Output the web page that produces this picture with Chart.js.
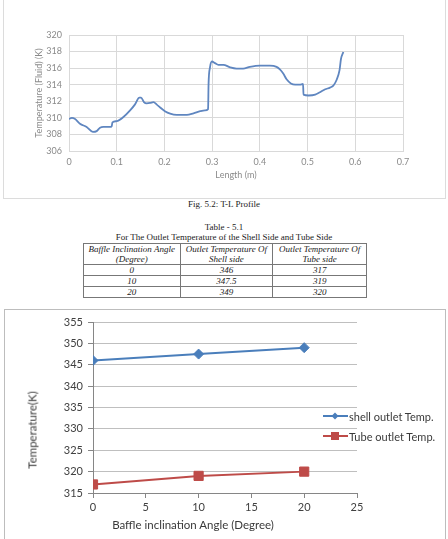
<!DOCTYPE html>
<html>
<head>
<meta charset="utf-8">
<title>T-L Profile and outlet temperatures</title>
<script src="https://cdn.jsdelivr.net/npm/chart.js@4.4.1/dist/chart.umd.min.js"></script>
<style>
  body { margin: 0; background: #fff; width: 448px; height: 539px; position: relative; overflow: hidden; }
  .abs { position: absolute; }
  .frame1 { left: 3px; top: -2px; width: 441px; height: 199px; border: 1px solid #dcdcdc; }
  .frame2 { left: 4px; top: 309px; width: 440px; height: 240px; border: 1px solid #bdbdbd; }
  .cap { left: 0; width: 448px; text-align: center; font-family: "Liberation Serif", serif; font-size: 9px; line-height: 11px; color: #222; }
  table { border-collapse: collapse; font-family: "Liberation Serif", serif; font-style: italic; font-size: 9px; color: #222; }
  td { border: 1px solid #777; text-align: center; padding: 0; line-height: 10px; height: 10px; }
  .ax { font-family: Lato, sans-serif; font-size: 11.5px; color: #3a3a3a; white-space: nowrap; }
  .leg { font-family: Lato, sans-serif; font-size: 11px; color: #3a3a3a; white-space: nowrap; }
  .leg div { height: 20px; display: flex; align-items: center; }
  .leg svg { margin-right: 1px; }
</style>
</head>
<body>
<div class="abs frame1"></div>
<canvas id="tlChart" class="abs" style="left:4px;top:0px" width="440" height="197"></canvas>

<div class="abs cap" style="top:199px">Fig. 5.2: T-L Profile</div>
<div class="abs cap" style="top:222px">Table - 5.1</div>
<div class="abs cap" style="top:232px">For The Outlet Temperature of the Shell Side and Tube Side</div>
<table class="abs" id="tbl" style="left:83px;top:243px;width:284px"></table>

<div class="abs frame2"></div>
<canvas id="outChart" class="abs" style="left:5px;top:310px" width="439" height="229"></canvas>
<div class="abs ax" style="left:32px;top:430px;transform:translate(-50%,-50%) rotate(-90deg)">Temperature(K)</div>
<div class="abs ax" style="left:193px;top:524px;transform:translate(-50%,-50%)">Baffle inclination Angle (Degree)</div>
<div class="abs leg" id="legend" style="left:323px;top:406px"></div>

<script>
// T-L profile
var tlLength = [0, 0.006, 0.012, 0.023, 0.037, 0.050, 0.058, 0.065, 0.072, 0.086, 0.0895, 0.091,
  0.1, 0.114, 0.128, 0.138, 0.1475, 0.151, 0.157, 0.163, 0.170, 0.177, 0.184, 0.191, 0.201,
  0.212, 0.226, 0.247, 0.261, 0.275, 0.285, 0.2915, 0.2925, 0.2955, 0.2995, 0.306, 0.313,
  0.3235, 0.3375, 0.351, 0.365, 0.379, 0.400, 0.421, 0.435, 0.442, 0.449, 0.456, 0.465,
  0.474, 0.484, 0.4905, 0.4915, 0.502, 0.516, 0.526, 0.537, 0.547, 0.554, 0.561, 0.567,
  0.570, 0.575];
var tlTemp = [309.85, 310.0, 309.9, 309.3, 308.9, 308.3, 308.4, 308.8, 308.9, 308.9, 309.0, 309.45,
  309.6, 310.1, 310.9, 311.6, 312.45, 312.45, 311.9, 311.75, 311.8, 311.9, 311.6, 311.25, 310.8,
  310.5, 310.35, 310.35, 310.55, 310.8, 310.9, 311.05, 314.1, 316.1, 316.8, 316.6, 316.4,
  316.4, 316.1, 315.95, 315.95, 316.15, 316.3, 316.3, 316.15, 315.85, 315.35, 314.65, 314.15,
  314.0, 314.0, 314.1, 312.8, 312.7, 312.8, 313.1, 313.45, 313.65, 313.9, 314.6, 315.75,
  317.1, 317.95];

// Table 5.1 / outlet temperature chart
var angles = [0, 10, 20];
var shellOutlet = [346, 347.5, 349];
var tubeOutlet = [317, 319, 320];
var seriesNames = ['shell outlet Temp.', 'Tube outlet Temp.'];
var tableHead = ['Baffle Inclination Angle<br>(Degree)', 'Outlet Temperature Of<br>Shell side', 'Outlet Temperature Of<br>Tube side'];
var shellText = ['346', '347.5', '349'];

var blue = '#4a7ebb', red = '#be4b48';

// ---- table
var html = '<tr style="height:21px">';
for (var h = 0; h < tableHead.length; h++) html += '<td style="width:' + [97, 93, 94][h] + 'px">' + tableHead[h] + '</td>';
html += '</tr>';
for (var r = 0; r < angles.length; r++) {
  html += '<tr style="height:11px"><td>' + angles[r] + '</td><td>' + shellText[r] + '</td><td>' + tubeOutlet[r] + '</td></tr>';
}
document.getElementById('tbl').innerHTML = html;

// ---- legend
var icons = [
  '<path d="M12 2.5 L15.5 6 L12 9.5 L8.5 6Z" fill="' + blue + '"/>',
  '<rect x="8" y="2" width="8" height="8" fill="' + red + '"/>'
];
var legColors = [blue, red], leg = '';
for (var k = 0; k < seriesNames.length; k++) {
  leg += '<div><svg width="25" height="12"><line x1="0" y1="6" x2="25" y2="6" stroke="' + legColors[k] +
    '" stroke-width="2"/>' + icons[k] + '</svg><span>' + seriesNames[k] + '</span></div>';
}
document.getElementById('legend').innerHTML = leg;

// ---- T-L chart
var tlPoints = [];
for (var i = 0; i < tlLength.length; i++) tlPoints.push({ x: tlLength[i], y: tlTemp[i] });

new Chart(document.getElementById('tlChart').getContext('2d'), {
  type: 'line',
  data: {
    datasets: [{
      data: tlPoints,
      borderColor: '#5f86c0',
      borderWidth: 1.8,
      pointRadius: 0,
      cubicInterpolationMode: 'monotone',
      fill: false
    }]
  },
  options: {
    responsive: false,
    animation: false,
    layout: { padding: { top: 35, right: 41, left: 0, bottom: 0 } },
    plugins: { legend: { display: false }, tooltip: { enabled: false } },
    scales: {
      x: {
        type: 'linear', min: 0, max: 0.7,
        afterFit: function (s) { s.height = 46; },
        grid: { color: '#d9d9d9', drawTicks: false },
        border: { color: '#d9d9d9' },
        ticks: { stepSize: 0.1, padding: 6, color: '#8a8a8a', font: { family: 'Lato', size: 9 } },
        title: { display: true, text: 'Length (m)', color: '#8a8a8a', padding: { bottom: 17 },
          font: { family: 'Lato', size: 9 } }
      },
      y: {
        min: 306, max: 320,
        afterFit: function (s) { s.width = 65; },
        grid: { color: '#d9d9d9', drawTicks: false },
        border: { color: '#d9d9d9' },
        ticks: { stepSize: 2, padding: 7, color: '#8a8a8a', font: { family: 'Lato', size: 9 } },
        title: { display: true, text: 'Temperature (Fluid) (K)', color: '#8a8a8a', padding: { top: 30 },
          font: { family: 'Lato', size: 9 } }
      }
    }
  }
});

// ---- outlet temperature chart
function pts(ys) {
  var out = [];
  for (var j = 0; j < angles.length; j++) out.push({ x: angles[j], y: ys[j] });
  return out;
}

new Chart(document.getElementById('outChart').getContext('2d'), {
  type: 'line',
  data: {
    datasets: [{
      label: seriesNames[0],
      data: pts(shellOutlet),
      borderColor: blue, backgroundColor: blue, borderWidth: 2,
      pointStyle: 'rectRot', pointRadius: 5, pointBorderWidth: 1
    }, {
      label: seriesNames[1],
      data: pts(tubeOutlet),
      borderColor: red, backgroundColor: red, borderWidth: 2,
      pointStyle: 'rect', pointRadius: 6.5, pointBorderWidth: 1
    }]
  },
  options: {
    responsive: false,
    animation: false,
    layout: { padding: { top: 12, right: 87, left: 0, bottom: 0 } },
    plugins: { legend: { display: false }, tooltip: { enabled: false } },
    scales: {
      x: {
        type: 'linear', min: 0, max: 25,
        afterFit: function (s) { s.height = 46; },
        grid: { drawOnChartArea: false, drawTicks: true, tickLength: 5, tickColor: '#868686' },
        border: { color: '#868686' },
        ticks: { stepSize: 5, padding: 3, color: '#404040', font: { family: 'Lato', size: 11 } }
      },
      y: {
        min: 315, max: 355,
        afterFit: function (s) { s.width = 88; },
        grid: { color: '#bfbfbf', tickLength: 5, tickColor: '#868686' },
        border: { color: '#868686' },
        ticks: { stepSize: 5, padding: 5, color: '#404040', font: { family: 'Lato', size: 11 } }
      }
    }
  }
});
</script>
</body>
</html>
